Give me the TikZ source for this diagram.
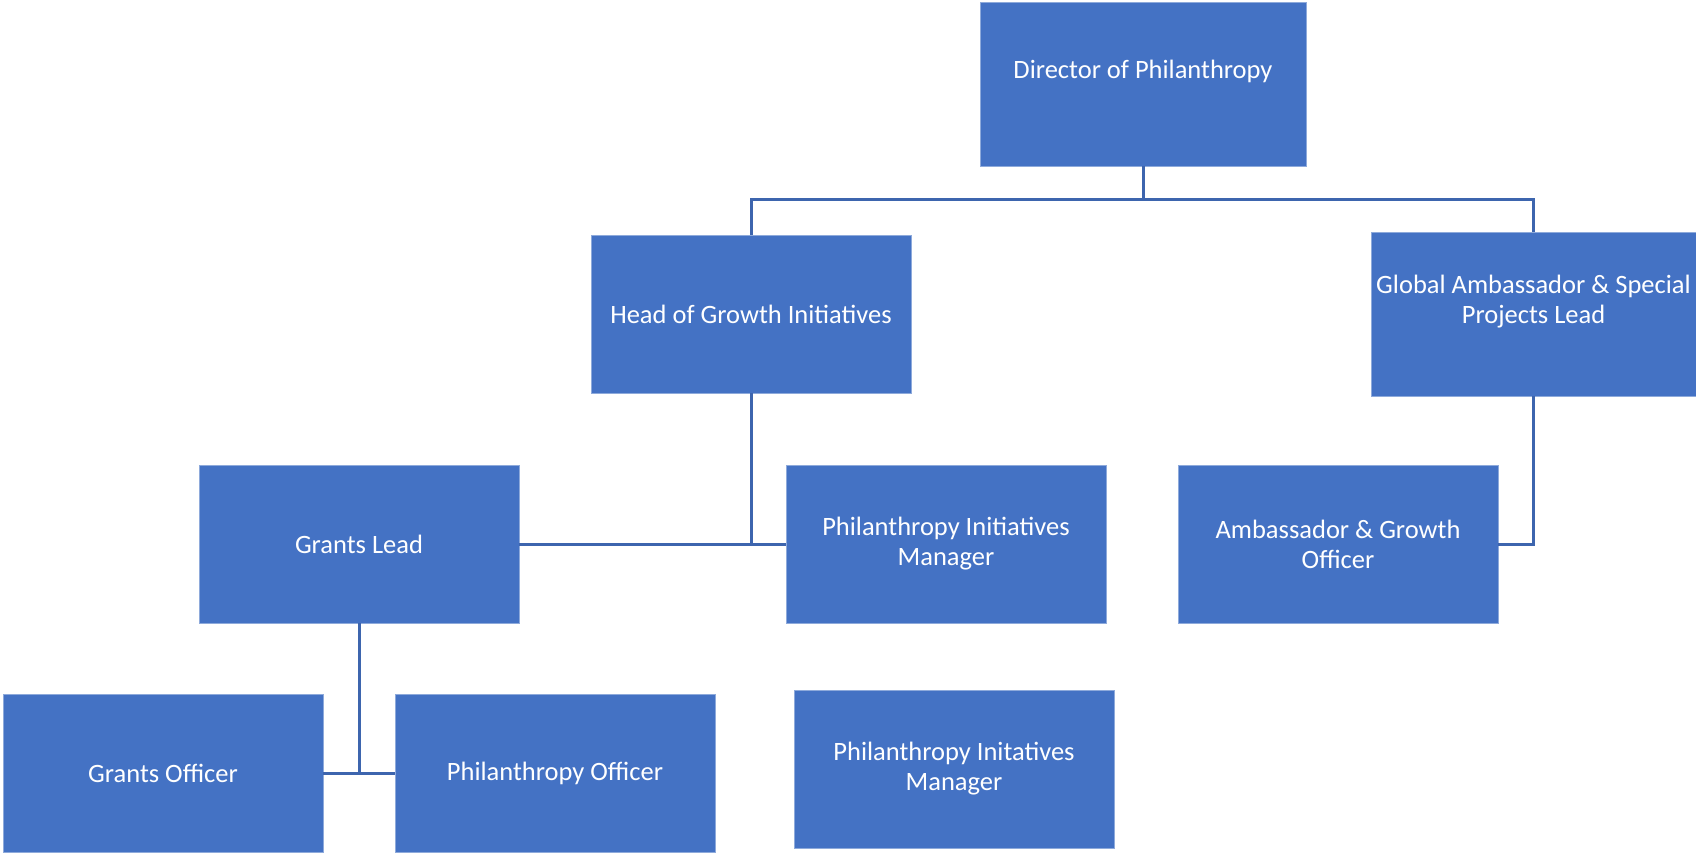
\documentclass[tikz,border=0pt]{standalone}
\usepackage{fontspec}
\setmainfont{Carlito}
\definecolor{boxfill}{HTML}{4472C4}
\definecolor{boxedge}{HTML}{8EAADB}
\definecolor{linkcol}{HTML}{3D65AE}
\begin{document}
\begin{tikzpicture}[x=1pt,y=-1pt,
  orgbox/.style={rectangle, fill=boxfill, draw=boxedge, line width=1pt,
    minimum width=320pt, minimum height=158pt, inner sep=0pt, outer sep=0pt,
    text=white, align=center, font=\fontsize{26.5}{30}\selectfont},
  bigbox/.style={orgbox, minimum width=326pt, minimum height=164pt},
  link/.style={draw=linkcol, line width=3pt}]
\useasboundingbox (0,0) rectangle (1696,852);
\node[bigbox] (dir) at (1143,84) {Director of Philanthropy\\ \mbox{}};
\node[orgbox] (head) at (751,314) {Head of Growth Initiatives};
\node[bigbox, minimum width=325pt] (glob) at (1533.5,314) {Global Ambassador \& Special\\ Projects Lead\\ \mbox{}};
\node[orgbox] (gl) at (359,544) {Grants Lead};
\node[orgbox] (pim) at (946,544) {Philanthropy Initiatives\\ Manager};
\node[orgbox] (amb) at (1338,544) {Ambassador \& Growth\\ Officer};
\node[orgbox] (go) at (163,773) {Grants Officer};
\node[orgbox] (po) at (555,773) {Philanthropy Officer};
\node[orgbox] (pim2) at (954,769) {Philanthropy Initatives\\ Manager};
\coordinate (hub) at (1143,199);
\draw[link] (dir.south) -- (hub);
\draw[link] (hub) -| (head.north);
\draw[link] (hub) -| (glob.north);
\draw[link] (head.south) -- (head.south |- gl.east);
\draw[link] (gl.east) -- (pim.west);
\draw[link] (glob.south) |- (amb.east);
\draw[link] (gl.south) -- (gl.south |- go.east);
\draw[link] (go.east) -- (po.west);
\end{tikzpicture}
\end{document}
